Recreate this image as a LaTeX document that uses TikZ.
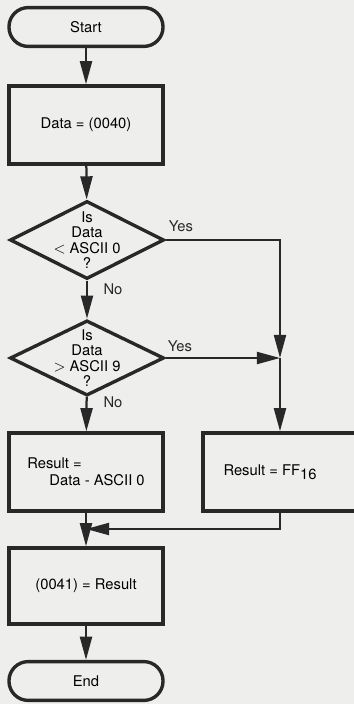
\documentclass[tikz,border=0pt]{standalone}
\usepackage{fontspec}
\setmainfont{TeX Gyre Heros}
\usepackage{tikz}
\usetikzlibrary{shapes.geometric, arrows.meta, positioning, calc}
\definecolor{mydark}{RGB}{40,40,40}
\definecolor{mypaper}{RGB}{238,238,236}
\tikzset{
  terminal/.style={rectangle, draw=mydark, rounded corners=0.48cm,
    minimum width=3.85cm, minimum height=0.97cm, line width=2.4pt,
    font=\fontsize{10.5}{11}\selectfont},
  procbox/.style={rectangle, draw=mydark, minimum width=3.85cm,
    minimum height=1.95cm, line width=2.4pt, align=center,
    font=\fontsize{10.5}{11}\selectfont},
  decision/.style={diamond, draw=mydark, minimum width=3.85cm,
    minimum height=1.95cm, inner sep=-0.7cm, line width=2.4pt, align=center,
    font=\fontsize{10.5}{11}\selectfont},
  arrow/.style={-{Triangle[length=0.58cm, width=0.3cm]}, line width=1.6pt, color=mydark},
  line/.style={line width=1.6pt, color=mydark},
  tag/.style={font=\fontsize{10.5}{11}\selectfont, text=mydark}
}
\begin{document}
\begin{tikzpicture}[x=0.025cm, y=-0.025cm]
  % Paper
  \fill[mypaper] (0,0) rectangle (354,704);
  \useasboundingbox (0,0) rectangle (354,704);

  % Nodes
  \node[terminal] (start) at (86,27) {Start};
  \node[procbox] (load) at (86,125) {Data = (0040)};
  \node[decision] (q1) at (87,240) {Is\\Data\\$<$ ASCII 0\\?};
  \node[decision, minimum height=1.88cm] (q2) at (87,358) {Is\\Data\\$>$ ASCII 9\\?};
  \node[procbox, align=left] (conv) at (86,472) {Result =\\[1pt]\hspace{1.5em}Data - ASCII 0};
  \node[procbox] (ff) at (280,472) {Result = FF\raisebox{-0.45ex}{16}\hspace{0.5cm}};
  \node[procbox, minimum height=1.9cm] (store) at (86,586) {(0041) = Result};
  \node[terminal] (stop) at (86,681) {End};

  % Junctions
  \coordinate (join) at (280,358);
  \coordinate (merge) at (86,529);

  % Main line
  \draw[arrow] (start) -- (load);
  \draw[arrow] (load) -- (q1);
  \draw[arrow] (q1) -- (q2);
  \draw[arrow] (q2) -- (conv);
  \draw[arrow] (conv) -- (store);
  \draw[arrow] (store) -- (stop);

  % Out of range branch
  \draw[arrow] (q1.east) -| (join);
  \draw[arrow] (q2.east) -- (join);
  \draw[arrow] (join) -- (join |- ff.north);
  \draw[arrow] (ff.south -| join) |- (merge);

  % Labels
  \node[tag] (yes1) at (181,226) {Yes};
  \node[tag] (no1) at (113,289) {No};
  \node[tag] (yes2) at (180,346) {Yes};
  \node[tag] (no2) at (113,402) {No};
\end{tikzpicture}
\end{document}
